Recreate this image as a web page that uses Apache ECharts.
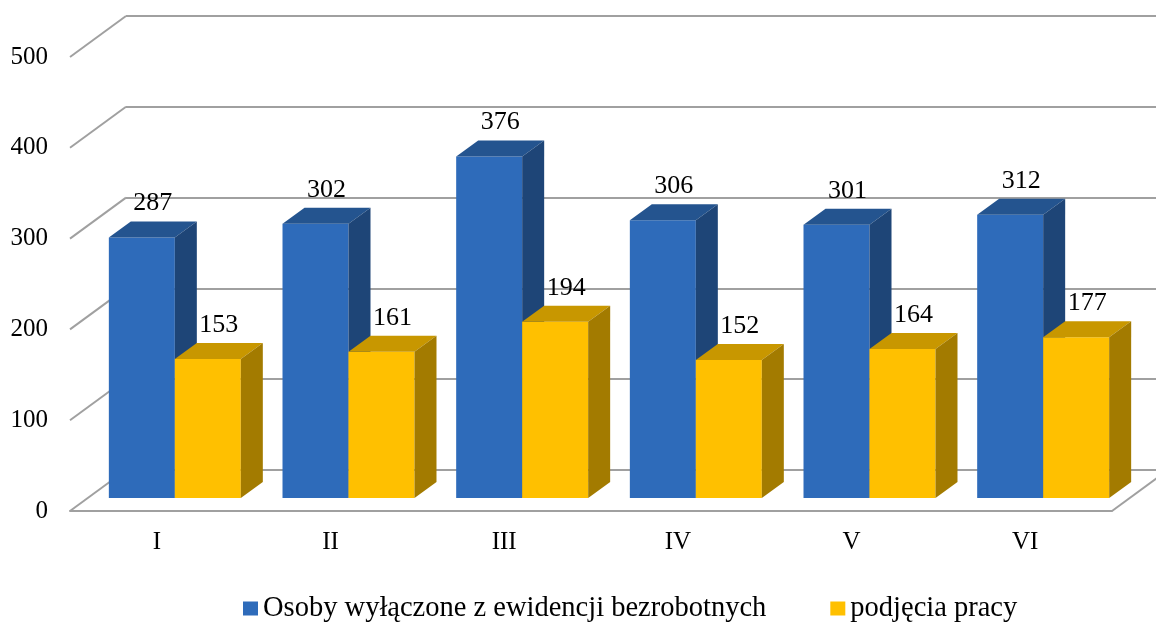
<!DOCTYPE html>
<html>
<head>
<meta charset="utf-8">
<script src="https://cdn.jsdelivr.net/npm/echarts@6/dist/echarts.min.js"></script>
<style>
  html, body { margin: 0; padding: 0; background: #fff; }
  #main { width: 1156px; height: 623px; }
</style>
</head>
<body>
<div id="main"></div>
<script>
// dane
var months = ["I", "II", "III", "IV", "V", "VI"];
var wylaczone = [287, 302, 376, 306, 301, 312];
var podjecia = [153, 161, 194, 152, 164, 177];
var yTicks = [0, 100, 200, 300, 400, 500];
var seriesNames = ["Osoby wyłączone z ewidencji bezrobotnych", "podjęcia pracy"];

var FONT = "Liberation Serif";
// przesunięcie tylnej ściany (głębia wykresu)
var WALL_DX = 56, WALL_DY = -41;
// przesunięcie przedniej ściany słupka i jego głębokość
var BAR_SHIFT_X = 18, BAR_SHIFT_Y = -13;
var BAR_DX = 22, BAR_DY = -16;

var colors = [
  { front: "#2E6BBA", top: "#24548F", side: "#1E4577" },
  { front: "#FFC000", top: "#C89700", side: "#A37B00" }
];

var myChart = echarts.init(document.getElementById("main"));

function barRenderer(sIdx) {
  return function (params, api) {
    var i = api.value(0);
    var val = api.value(1);
    var c = colors[sIdx];
    var base = api.coord([i, 0]);
    var top = api.coord([i, val]);
    var band = api.size([1, 0])[0];
    var w = band * 0.38;
    var x0 = base[0] + BAR_SHIFT_X + (sIdx === 0 ? -w : 0);
    var x1 = x0 + w;
    var yb = base[1] + BAR_SHIFT_Y;
    var yt = top[1] + BAR_SHIFT_Y;
    return {
      type: "group",
      children: [
        {
          type: "rect",
          shape: { x: x0, y: yt, width: w, height: yb - yt },
          style: { fill: c.front }
        },
        {
          type: "polygon",
          shape: { points: [[x0, yt], [x1, yt], [x1 + BAR_DX, yt + BAR_DY], [x0 + BAR_DX, yt + BAR_DY]] },
          style: { fill: c.top }
        },
        {
          type: "polygon",
          shape: { points: [[x1, yt], [x1 + BAR_DX, yt + BAR_DY], [x1 + BAR_DX, yb + BAR_DY], [x1, yb]] },
          style: { fill: c.side }
        },
        {
          type: "text",
          style: {
            x: (x0 + x1) / 2 + BAR_DX / 2,
            y: yt + BAR_DY - 5,
            text: String(val),
            fill: "#000",
            font: "26px " + FONT,
            align: "center",
            verticalAlign: "bottom"
          }
        }
      ]
    };
  };
}

function wallRenderer(params, api) {
  var v = api.value(1);
  var p = api.coord([0, v]);
  var band = api.size([1, 0])[0];
  var xl = p[0] - band / 2;
  var lineStyle = { stroke: "#a0a0a0", lineWidth: 2 };
  var children = [
    { type: "line", shape: { x1: xl, y1: p[1], x2: xl + WALL_DX, y2: p[1] + WALL_DY }, style: lineStyle }
  ];
  if (v === 0) {
    var xr = xl + band * months.length;
    children.push({ type: "line", shape: { x1: xr, y1: p[1], x2: xr + WALL_DX, y2: p[1] + WALL_DY }, style: lineStyle });
  }
  return { type: "group", children: children };
}

var option = {
  animation: false,
  legend: {
    data: seriesNames,
    left: 238,
    top: 589,
    icon: "rect",
    itemWidth: 15,
    itemHeight: 14,
    itemGap: 64,
    textStyle: { fontFamily: FONT, fontSize: 28.5, color: "#000" }
  },
  grid: [
    { left: 70, right: 44, top: 57, bottom: 112 },
    { left: 126, right: 0, top: 16, bottom: 153 }
  ],
  xAxis: [
    {
      type: "category",
      gridIndex: 0,
      data: months,
      axisLine: { show: true, lineStyle: { color: "#a0a0a0", width: 2 } },
      axisTick: { show: false },
      axisLabel: { fontFamily: FONT, fontSize: 25, color: "#000", margin: 19 },
      splitLine: { show: false }
    },
    {
      type: "category",
      gridIndex: 1,
      data: months,
      show: false
    }
  ],
  yAxis: [
    {
      type: "value",
      gridIndex: 0,
      min: 0,
      max: 500,
      interval: 100,
      axisLine: { show: false },
      axisTick: { show: false },
      axisLabel: { fontFamily: FONT, fontSize: 25, color: "#000", margin: 22 },
      splitLine: { show: false }
    },
    {
      type: "value",
      gridIndex: 1,
      min: 0,
      max: 500,
      interval: 100,
      axisLine: { show: false },
      axisTick: { show: false },
      axisLabel: { show: false },
      splitLine: { show: true, lineStyle: { color: "#a0a0a0", width: 2 } }
    }
  ],
  series: [
    {
      name: "walls",
      type: "custom",
      xAxisIndex: 0,
      yAxisIndex: 0,
      silent: true,
      clip: false,
      renderItem: wallRenderer,
      encode: { x: 0, y: 1 },
      data: yTicks.map(function (v) { return [0, v]; })
    },
    {
      name: seriesNames[0],
      type: "custom",
      xAxisIndex: 0,
      yAxisIndex: 0,
      clip: false,
      itemStyle: { color: colors[0].front },
      renderItem: barRenderer(0),
      encode: { x: 0, y: 1 },
      data: wylaczone.map(function (v, i) { return [i, v]; })
    },
    {
      name: seriesNames[1],
      type: "custom",
      xAxisIndex: 0,
      yAxisIndex: 0,
      clip: false,
      itemStyle: { color: colors[1].front },
      renderItem: barRenderer(1),
      encode: { x: 0, y: 1 },
      data: podjecia.map(function (v, i) { return [i, v]; })
    }
  ]
};

myChart.setOption(option);
</script>
</body>
</html>
